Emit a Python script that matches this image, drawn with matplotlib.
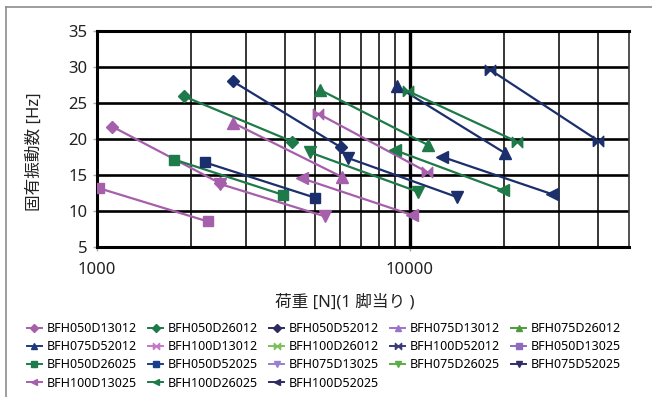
import numpy as np
import matplotlib
matplotlib.use('Agg')
import matplotlib.pyplot as plt
from matplotlib.lines import Line2D
from matplotlib.ticker import FixedLocator, NullFormatter

plt.rcParams['font.family'] = ['Noto Sans', 'Noto Sans CJK JP', 'DejaVu Sans']

# data: each series is (start, end) in load [N] / natural frequency [Hz]
names = ['BFH050D13012', 'BFH050D26012', 'BFH050D52012', 'BFH075D13012',
         'BFH075D26012', 'BFH075D52012', 'BFH100D13012', 'BFH100D26012',
         'BFH100D52012', 'BFH050D13025', 'BFH050D26025', 'BFH050D52025',
         'BFH075D13025', 'BFH075D26025', 'BFH075D52025', 'BFH100D13025',
         'BFH100D26025', 'BFH100D52025']

load = [
    [1120, 2480],    # BFH050D13012
    [1900, 4220],    # BFH050D26012
    [2720, 6030],    # BFH050D52012
    [2730, 6060],    # BFH075D13012
    [5170, 11470],   # BFH075D26012
    [9090, 20160],   # BFH075D52012
    [5100, 11330],   # BFH100D13012
    [9900, 21970],   # BFH100D26012
    [18060, 40060],  # BFH100D52012
    [1020, 2260],    # BFH050D13025
    [1770, 3930],    # BFH050D26025
    [2220, 4980],    # BFH050D52025
    [2480, 5360],    # BFH075D13025
    [4800, 10650],   # BFH075D26025
    [6370, 14130],   # BFH075D52025
    [4520, 10150],   # BFH100D13025
    [8980, 19910],   # BFH100D26025
    [12650, 28430],  # BFH100D52025
]

freq = [
    [21.7, 13.8],
    [25.9, 19.6],
    [28.0, 18.8],
    [22.2, 14.7],
    [26.8, 19.1],
    [27.3, 18.0],
    [23.5, 15.4],
    [26.6, 19.6],
    [29.6, 19.7],
    [13.1, 8.5],
    [17.1, 12.2],
    [16.7, 11.8],
    [13.7, 9.2],
    [18.1, 12.6],
    [17.3, 11.9],
    [14.5, 9.4],
    [18.4, 12.8],
    [17.5, 12.3],
]

purple = '#a65fab'
green = '#1e7a48'
navy = '#1b2f6c'
bowtie = [(-1, -1), (-1, 1), (0, 0), (1, 1), (1, -1), (0, 0), (-1, -1)]

colors = [purple, green, navy] * 6
markers = ['D'] * 3 + ['^'] * 3 + [bowtie] * 3 + ['s'] * 3 + ['v'] * 3 + ['<'] * 3
msizes = [6.5] * 3 + [8] * 3 + [7.5] * 3 + [7.5] * 3 + [8] * 3 + [8] * 3

legend_colors = ['#a65fab', '#1e7a48', '#2e2b62', '#9a74c8', '#4f9a3c',
                 '#1f3a7c', '#c279c8', '#7cc05a', '#3b3a7a', '#8e6bbe',
                 '#1e7a48', '#183f8c', '#9a80d0', '#5aae4a', '#2f2e66',
                 '#a65fab', '#1e7a48', '#2e2b62']

fig = plt.figure(figsize=(6.52, 3.97), dpi=100)
ax = fig.add_axes([0.1483, 0.379, 0.8157, 0.5431])

for i in range(len(names)):
    ax.plot(load[i], freq[i], color=colors[i], marker=markers[i],
            markersize=msizes[i], markeredgecolor=colors[i],
            linewidth=1.6, zorder=3)

ax.set_xscale('log')
ax.set_xlim(1000, 50000)
ax.set_ylim(5, 35)
ax.set_yticks(np.arange(5, 36, 5))
ax.xaxis.set_major_locator(FixedLocator([1000, 10000]))
ax.set_xticklabels(['1000', '10000'])
minor = [2000, 3000, 4000, 5000, 6000, 7000, 8000, 9000, 20000, 30000, 40000]
ax.xaxis.set_minor_locator(FixedLocator(minor))
ax.xaxis.set_minor_formatter(NullFormatter())

ax.grid(axis='y', color='black', linewidth=1.9, zorder=1)
ax.grid(axis='x', which='minor', color='black', linewidth=1.1, zorder=1)
ax.axvline(10000, color='black', linewidth=2.4, zorder=1)
ax.set_axisbelow(True)

for s in ['left', 'bottom', 'top']:
    ax.spines[s].set_linewidth(2.2)
    ax.spines[s].set_color('black')
ax.spines['right'].set_linewidth(1.2)
ax.spines['right'].set_color('#333333')

ax.tick_params(axis='both', which='major', labelsize=12, color='#aaaaaa',
               length=3, width=1, labelcolor='#222222')
ax.tick_params(axis='x', which='major', pad=8)
ax.tick_params(axis='x', which='minor', length=0)

ax.set_ylabel('固有振動数 [Hz]', fontsize=12, color='#222222')
ax.yaxis.set_label_coords(-0.101, 0.44)
ax.set_xlabel('荷重 [N](1 脚当り )', fontsize=12, color='#222222')
ax.xaxis.set_label_coords(0.467, -0.22)

handles = []
for i in range(len(names)):
    handles.append(Line2D([0], [0], color=legend_colors[i], marker=markers[i],
                          markersize=msizes[i] * 0.6,
                          markeredgecolor=legend_colors[i], linewidth=1.4))
order = [0, 5, 10, 15, 1, 6, 11, 16, 2, 7, 12, 17, 3, 8, 13, 4, 9, 14]
fig.legend([handles[k] for k in order], [names[k] for k in order],
           loc='upper left', bbox_to_anchor=(27 / 652, 1 - 322 / 397),
           ncol=5, frameon=False, fontsize=9, handlelength=1.2,
           handletextpad=0.35, columnspacing=0.92, labelspacing=0.42,
           borderaxespad=0, borderpad=0)

# outer frame (top and left edges visible)
fig.add_artist(Line2D([6 / 652, 1], [1 - 7 / 397, 1 - 7 / 397],
                      color='#8c8c8c', linewidth=1.2, transform=fig.transFigure))
fig.add_artist(Line2D([6 / 652, 6 / 652], [0, 1 - 7 / 397],
                      color='#8c8c8c', linewidth=1.2, transform=fig.transFigure))

fig.savefig('out.png', dpi=100)
